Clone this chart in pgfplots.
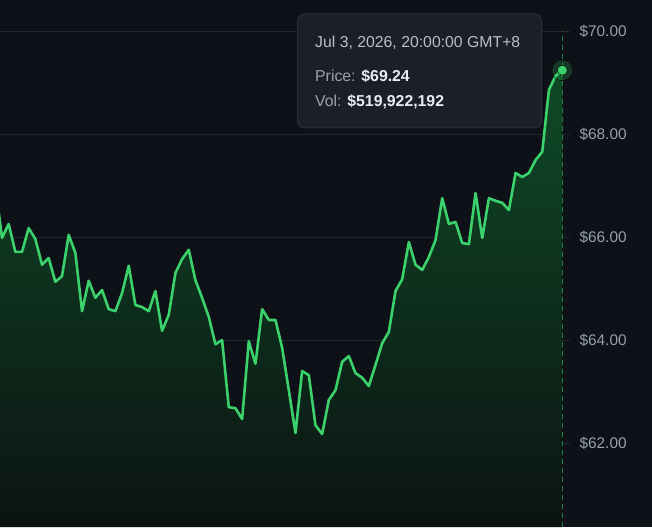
\documentclass[border=0pt]{standalone}
\usepackage{pgfplots}
\usepackage{pgfplotstable}
\pgfplotsset{compat=1.18}
\usepackage{fontspec}
\setmainfont{Liberation Sans}
\definecolor{bg}{HTML}{0E1117}
\definecolor{gridc}{HTML}{22262E}
\definecolor{lineg}{HTML}{3BD16B}
\definecolor{dashg}{HTML}{1C7E40}
\definecolor{ticktext}{HTML}{96A1B0}
\definecolor{tipbg}{HTML}{1B1F27}
\definecolor{tipborder}{HTML}{2A2F38}
\definecolor{tiptext}{HTML}{B9C0CA}
\definecolor{tiplabel}{HTML}{9AA3AD}
\definecolor{tipvalue}{HTML}{E8EDF2}
\definecolor{filltop}{RGB}{15,74,38}
\definecolor{fillbot}{RGB}{12,19,19}

\pgfplotstableread{
i p
-1 67.00
0 65.99
1 66.26
2 65.72
3 65.72
4 66.18
5 65.97
6 65.47
7 65.60
8 65.14
9 65.25
10 66.05
11 65.70
12 64.57
13 65.16
14 64.83
15 64.98
16 64.61
17 64.57
18 64.92
19 65.45
20 64.69
21 64.65
22 64.57
23 64.96
24 64.19
25 64.50
26 65.31
27 65.58
28 65.76
29 65.17
30 64.83
31 64.46
32 63.93
33 64.01
34 62.71
35 62.69
36 62.48
37 63.99
38 63.55
39 64.61
40 64.40
41 64.40
42 63.86
43 63.04
44 62.21
45 63.41
46 63.33
47 62.36
48 62.19
49 62.85
50 63.04
51 63.59
52 63.70
53 63.37
54 63.28
55 63.12
56 63.53
57 63.95
58 64.17
59 64.96
60 65.19
61 65.91
62 65.47
63 65.37
64 65.62
65 65.95
66 66.76
67 66.26
68 66.30
69 65.89
70 65.87
71 66.86
72 65.99
73 66.76
74 66.71
75 66.67
76 66.53
77 67.25
78 67.17
79 67.25
80 67.50
81 67.66
82 68.86
83 69.13
84 69.24
}\pricedata

\begin{document}
\begin{tikzpicture}[x=1pt,y=1pt]
\fill[bg] (0,0) rectangle (652,527);
\useasboundingbox (0,0) rectangle (652,527);
\begin{axis}[
  at={(0pt,0pt)}, anchor=south west,
  scale only axis, width=570pt, height=527pt,
  xmin=-0.3, xmax=85.16, ymin=60.388, ymax=70.601,
  axis line style={draw=none},
  xtick=\empty,
  ytick={62,64,66,68,70},
  yticklabels={\$62.00,\$64.00,\$66.00,\$68.00,\$70.00},
  yticklabel pos=right,
  ymajorgrids,
  grid style={gridc, line width=1pt},
  major tick length=0pt,
  yticklabel style={font=\fontsize{15.4}{18}\selectfont, text=ticktext, anchor=west, xshift=6pt},
  clip=true,
]
\addplot[draw=none, top color=filltop, bottom color=fillbot, forget plot]
  table[x=i,y=p]{\pricedata} -- (axis cs:84,60.388) -- (axis cs:-1,60.388) -- cycle;
\addplot[dashg, line width=1pt, dash pattern=on 5pt off 4pt, forget plot]
  coordinates {(84,60.388) (84,70)};
\addplot[lineg, line width=2.6pt, line join=round, mark=none]
  table[x=i,y=p]{\pricedata};
\addplot[only marks, mark=*, mark size=10.5pt, mark options={fill=lineg, fill opacity=0.2, draw=none}]
  coordinates {(84,69.24)};
\addplot[only marks, mark=*, mark size=5pt, mark options={fill=lineg, draw=none}]
  coordinates {(84,69.24)};
\end{axis}
\draw[tipborder, fill=tipbg, rounded corners=7pt, line width=1pt] (297.5,513) rectangle (541.5,399);
\node[anchor=base west, inner sep=0pt, text=tiptext, font=\fontsize{15.8}{18}\selectfont] at (315,479.5) {Jul 3, 2026, 20:00:00 GMT+8};
\node[anchor=base west, inner sep=0pt, font=\fontsize{15.8}{18}\selectfont] at (315,445) {\textcolor{tiplabel}{Price: }\textcolor{tipvalue}{\bfseries\$69.24}};
\node[anchor=base west, inner sep=0pt, font=\fontsize{15.8}{18}\selectfont] at (315,420.5) {\textcolor{tiplabel}{Vol: }\textcolor{tipvalue}{\bfseries\$519,922,192}};
\end{tikzpicture}
\end{document}
